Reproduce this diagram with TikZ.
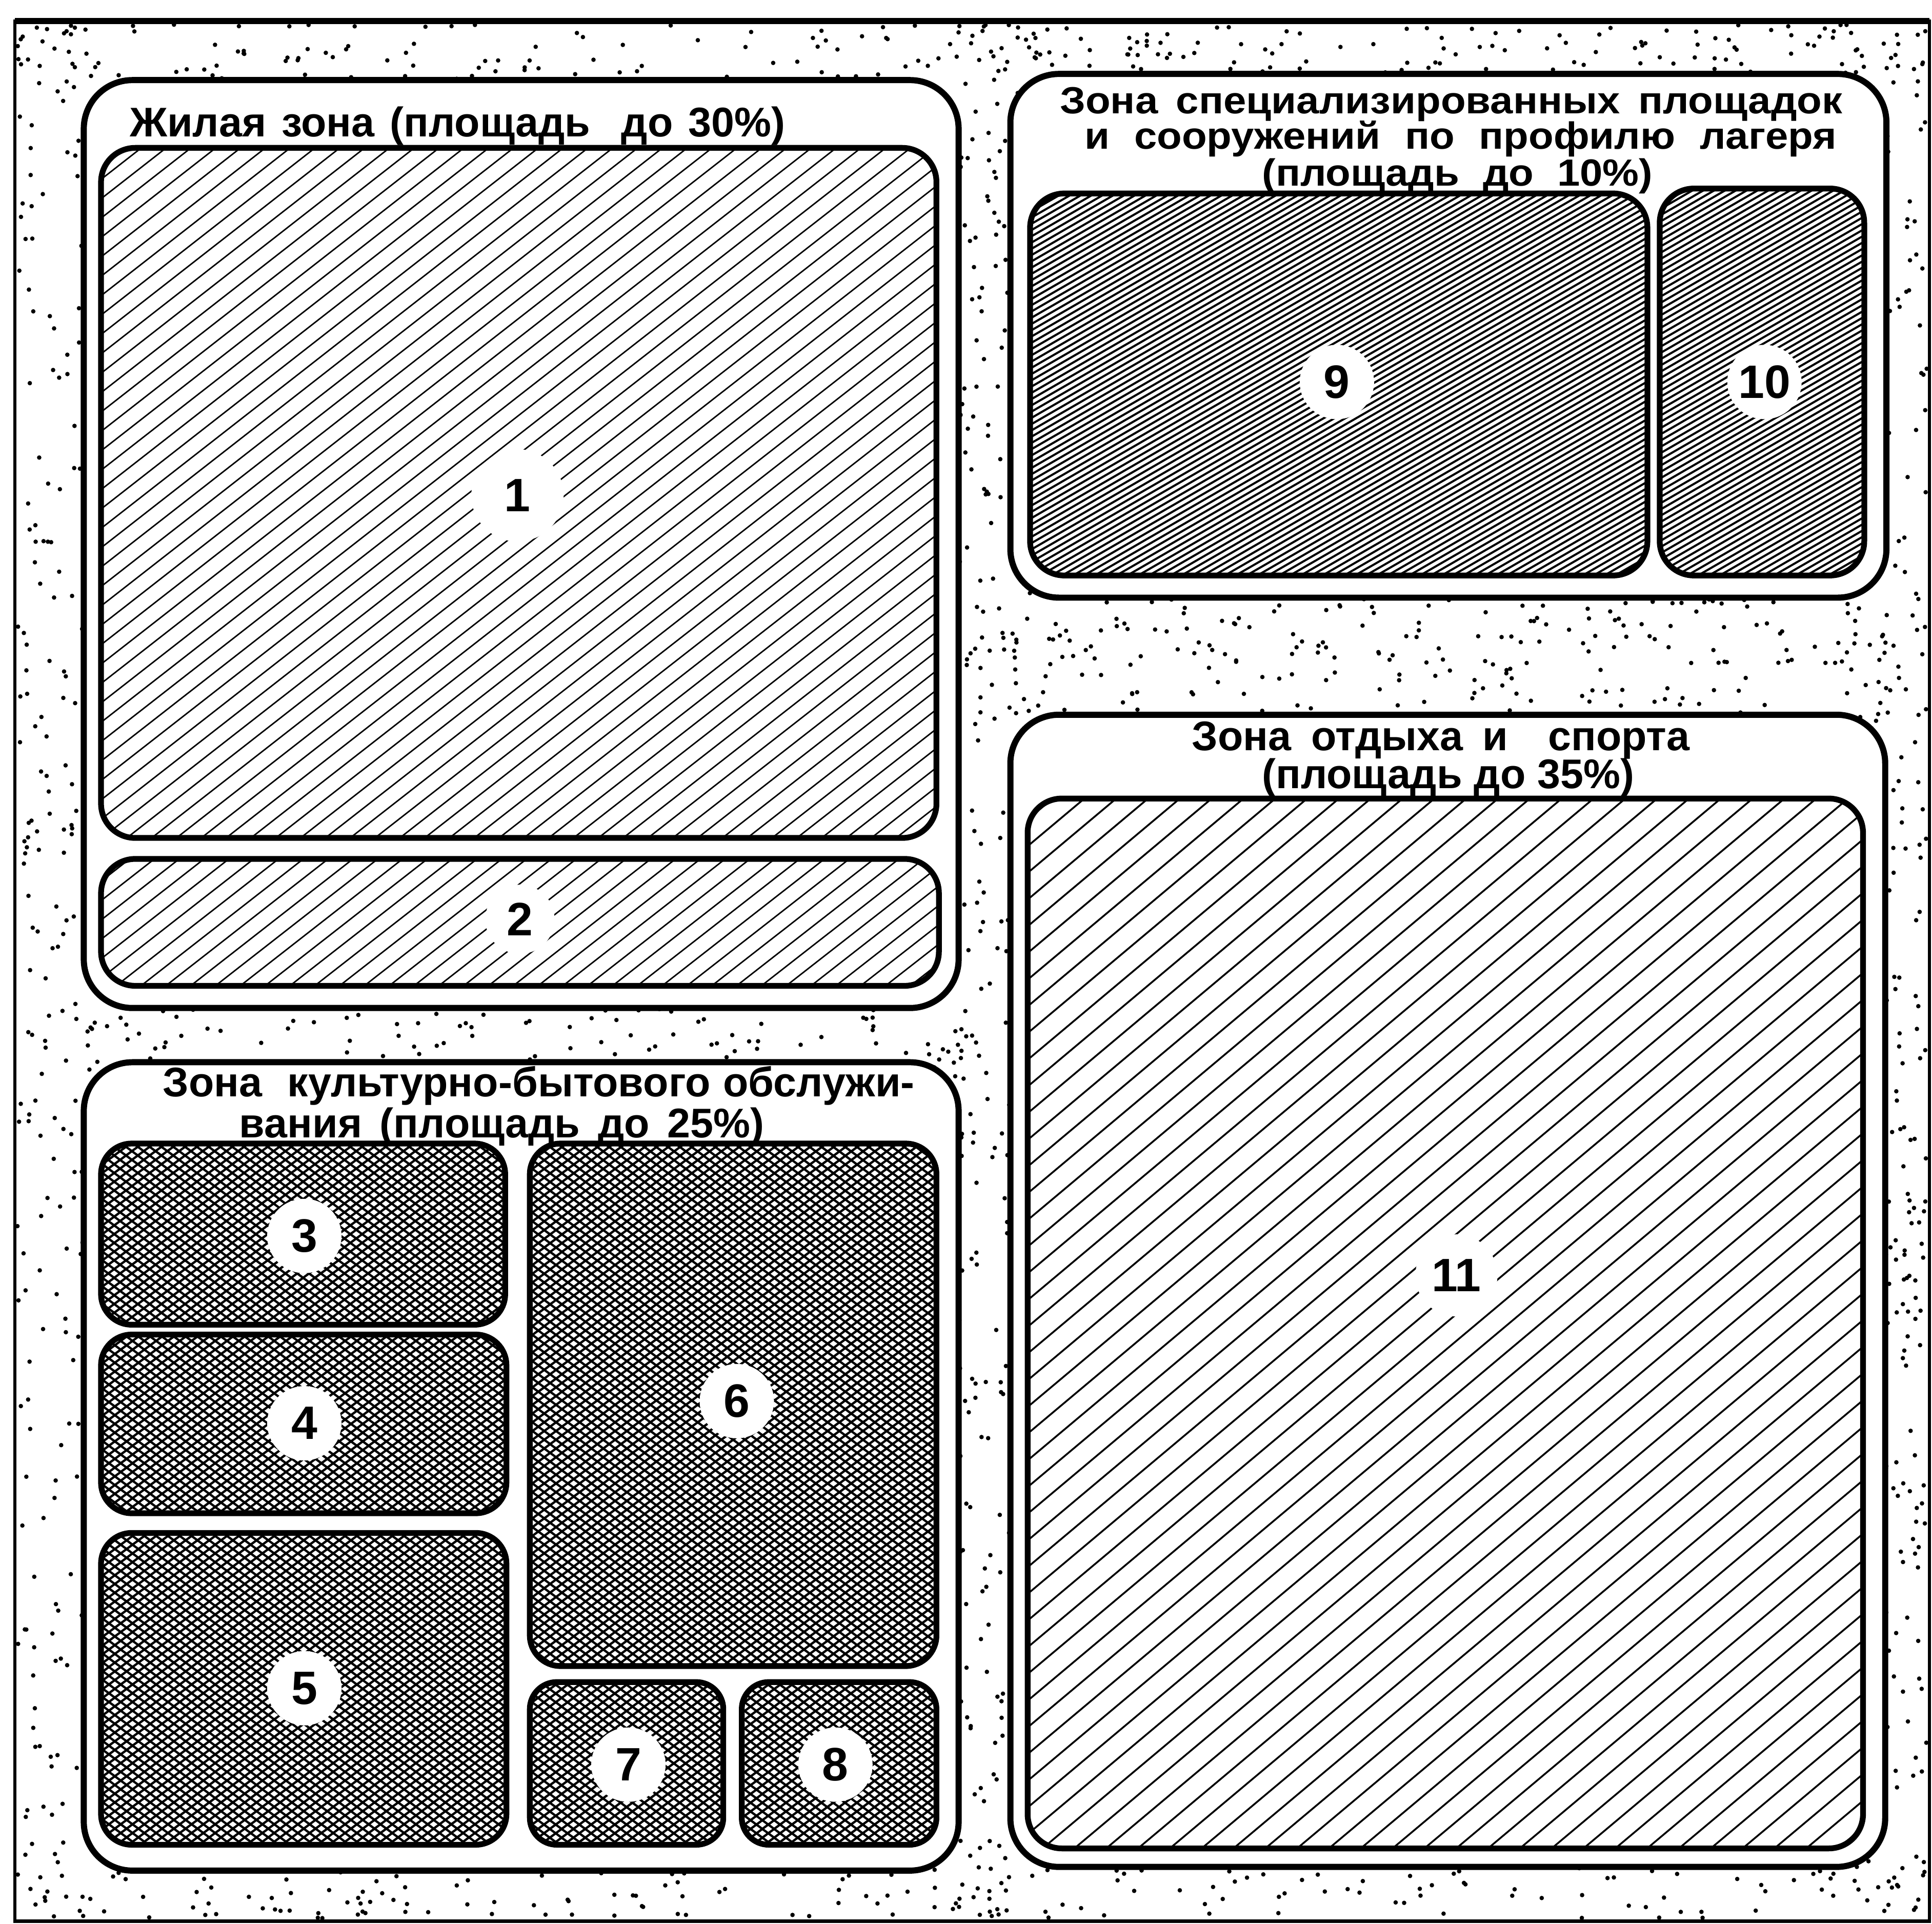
\documentclass[tikz,border=0pt]{standalone}
\usepackage{fontspec}
\usepackage{graphicx}
\setmainfont{Liberation Sans}
\usetikzlibrary{calc}

\newlength\zu
\setlength\zu{0.02403cm}

\newcommand\hatchrect[8]{% x1 y1 x2 y2 radius angle spacing linewidth
  \begin{scope}
    \clip[rounded corners=#5] (#1,#2) rectangle (#3,#4);
    \pgfmathsetmacro\hcx{(#1+#3)/2}
    \pgfmathsetmacro\hcy{(#2+#4)/2}
    \pgfmathsetmacro\hL{((#3-#1)+(#4-#2))/2+5}
    \pgfmathtruncatemacro\hN{\hL/#7+1}
    \foreach \k in {-\hN,...,\hN}{
      \draw[line width=#8] ($(\hcx,\hcy)+(#6:\hL)+(#6+90:\k*#7)$) -- ($(\hcx,\hcy)+(#6+180:\hL)+(#6+90:\k*#7)$);
    }
  \end{scope}}

\newcommand\stipple[5]{% x1 y1 x2 y2 n
  \foreach \i in {1,...,#5}{
    \pgfmathsetmacro\sx{#1+rnd*(#3-#1)}
    \pgfmathsetmacro\sy{#2+rnd*(#4-#2)}
    \fill (\sx,\sy) circle (1.8);
  }}

\newcommand\spread[2]{\makebox[#1\zu][s]{#2}}

\tikzset{
  zone/.style={draw=black, fill=white, line width=3.4pt, rounded corners=27pt},
  plot/.style={draw=black, line width=3.2pt, rounded corners=#1},
  plot/.default=19pt,
  num/.style={circle, fill=white, inner sep=0pt, minimum size=1.45cm, font=\fontsize{26}{26}\selectfont\bfseries},
  title/.style={anchor=base west, inner sep=0pt, font=\fontsize{23}{20}\selectfont\bfseries},
  smalltitle/.style={title, font=\fontsize{21}{20}\selectfont\bfseries},
}

\begin{document}
\begin{tikzpicture}[x=0.02403cm, y=-0.02403cm]
\useasboundingbox (0,0) rectangle (1568,1561);
\fill[white] (0,0) rectangle (1568,1561);

% stippled ground
\pgfmathsetseed{4242}
\stipple{14}{20}{790}{72}{110}
\stipple{790}{20}{1564}{72}{170}
\stipple{14}{1510}{1564}{1557}{210}
\stipple{14}{20}{76}{1557}{230}
\stipple{1522}{20}{1564}{1557}{210}
\stipple{770}{20}{828}{1557}{280}
\stipple{60}{810}{786}{870}{120}
\stipple{812}{477}{1538}{588}{260}

% outer frame
\draw[line width=1.8pt] (12,17) rectangle (1566,1559);
\draw[line width=3.4pt] (12,17) -- (1566,17);

% zones
\draw[zone] (68,65) rectangle (778,818);
\draw[zone] (820,60) rectangle (1531,485);
\draw[zone] (820,580) rectangle (1530,1515);
\draw[zone] (68,862) rectangle (778,1518);

% living zone plots
\hatchrect{82}{120}{760}{680}{19pt}{-38}{12.4}{0.8pt}
\node[num, minimum size=1.8cm] (n1) at (420,402) {1};
\draw[plot] (82,120) rectangle (760,680);
\hatchrect{82}{697}{762}{800}{19pt}{-38}{12.4}{0.8pt}
\node[num, minimum size=1.35cm] (n2) at (422,746) {2};
\draw[plot] (82,697) rectangle (762,800);

% specialised zone plots
\hatchrect{836}{157}{1337}{467}{19pt}{-30}{4.4}{1.15pt}
\node[num] (n9) at (1085,310) {9};
\draw[plot] (836,157) rectangle (1337,467);
\hatchrect{1347}{153}{1513}{467}{19pt}{-30}{4.4}{1.15pt}
\node[num] (n10) at (1432,310) {10};
\draw[plot] (1347,153) rectangle (1513,467);

% sport zone plot
\hatchrect{834}{648}{1512}{1500}{19pt}{-40}{16.6}{1pt}
\node[num, minimum size=1.6cm] (n11) at (1182,1035) {11};
\draw[plot] (834,648) rectangle (1512,1500);

% cultural zone plots (cross hatch)
\foreach \a in {-36.5,36.5}{
  \hatchrect{82}{928}{410}{1075}{17pt}{\a}{5.7}{1.25pt}
  \hatchrect{82}{1083}{411}{1228}{17pt}{\a}{5.7}{1.25pt}
  \hatchrect{82}{1244}{411}{1497}{17pt}{\a}{5.7}{1.25pt}
  \hatchrect{430}{928}{760}{1352}{17pt}{\a}{5.7}{1.25pt}
  \hatchrect{430}{1365}{587}{1497}{15pt}{\a}{5.7}{1.25pt}
  \hatchrect{602}{1365}{760}{1497}{15pt}{\a}{5.7}{1.25pt}
}
\node[num] (n3) at (247,1003) {3};
\node[num] (n4) at (247,1155) {4};
\node[num] (n5) at (247,1370) {5};
\node[num] (n6) at (598,1137) {6};
\node[num] (n7) at (510,1432) {7};
\node[num] (n8) at (678,1432) {8};
\draw[plot=17pt] (82,928) rectangle (410,1075);
\draw[plot=17pt] (82,1083) rectangle (411,1228);
\draw[plot=17pt] (82,1244) rectangle (411,1497);
\draw[plot=17pt] (430,928) rectangle (760,1352);
\draw[plot=15pt] (430,1365) rectangle (587,1497);
\draw[plot=15pt] (602,1365) rectangle (760,1497);

% titles
\node[title] (tl) at (105,111) {\spread{532}{Жилая зона (площадь\ \ до 30\%)}};
\node[smalltitle] (ts1) at (860,92) {\scalebox{1.08}[1]{\spread{588}{Зона специализированных площадок}}};
\node[smalltitle] (ts2) at (880,121) {\scalebox{1.08}[1]{\spread{565}{и сооружений по профилю лагеря}}};
\node[smalltitle] (ts3) at (1024,151) {\scalebox{1.08}[1]{\spread{293.5}{(площадь до 10\%)}}};
\node[title] (tr1) at (967,609) {\spread{404}{Зона отдыха и\ \ спорта}};
\node[title] (tr2) at (1024,640) {\spread{302}{(площадь до 35\%)}};
\node[title] (tc1) at (132,890) {\spread{610}{Зона\ \ культурно-бытового обслужи-}};
\node[title] (tc2) at (194,923) {\spread{426}{вания (площадь до 25\%)}};
\end{tikzpicture}
\end{document}
